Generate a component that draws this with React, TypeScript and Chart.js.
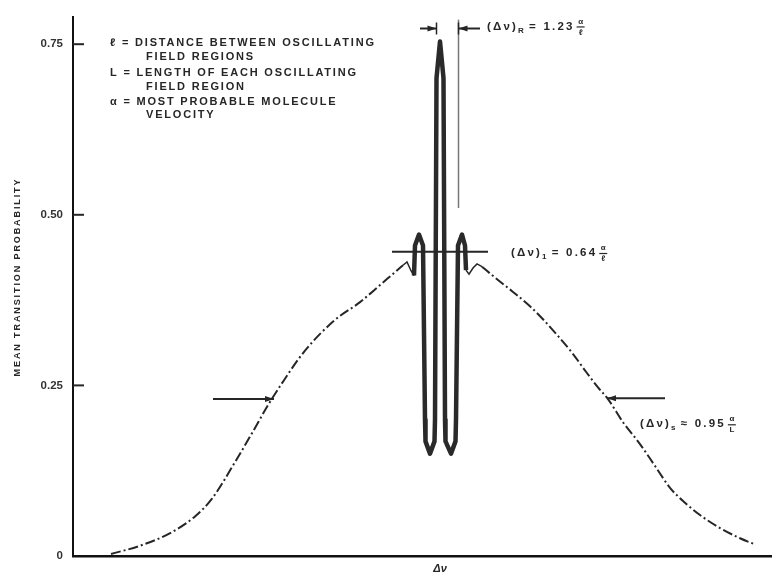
import React, { useEffect, useRef } from "react";
import { Chart, registerables } from "chart.js";

Chart.register(...registerables);

// ---- axis ticks ----
const Y_TICKS = [0, 0.25, 0.5, 0.75];
const Y_TICK_LABELS = ["0", "0.25", "0.50", "0.75"];
const X_MIN = -36.7;
const X_MAX = 33.2;
const Y_MIN = 0;
const Y_MAX = 0.79;

// ---- broad (Rabi) pedestal, left part ----
const PEDESTAL_LEFT_X = [-32.9, -30.0, -26.8, -24.5, -22.8, -20.4, -18.8, -17.2, -15.9, -13.5, -10.5, -8.0, -6.0, -4.5, -3.7];
const PEDESTAL_LEFT_Y = [0.003, 0.015, 0.035, 0.058, 0.084, 0.140, 0.180, 0.221, 0.251, 0.301, 0.346, 0.372, 0.397, 0.416, 0.426];

// ---- small wiggle left of the fringes ----
const WIGGLE_LEFT_X = [-3.7, -3.3, -2.9, -2.6];
const WIGGLE_LEFT_Y = [0.426, 0.431, 0.418, 0.411];

// ---- Ramsey fringes (central pattern) ----
const FRINGE_X = [-2.6, -2.5, -2.1, -1.7, -1.5, -1.45, -1.0, -0.55, -0.5, -0.35, 0.0, 0.35, 0.5, 0.55, 1.1, 1.55, 1.6, 1.8, 2.2, 2.5, 2.6];
const FRINGE_Y = [0.411, 0.455, 0.471, 0.455, 0.200, 0.168, 0.150, 0.168, 0.200, 0.700, 0.754, 0.700, 0.200, 0.168, 0.150, 0.168, 0.200, 0.455, 0.471, 0.455, 0.419];

// ---- small wiggle right of the fringes ----
const WIGGLE_RIGHT_X = [2.6, 2.9, 3.3, 3.7, 4.2];
const WIGGLE_RIGHT_Y = [0.419, 0.413, 0.422, 0.428, 0.424];

// ---- broad (Rabi) pedestal, right part ----
const PEDESTAL_RIGHT_X = [4.2, 5.5, 7.3, 9.0, 10.3, 11.7, 13.2, 14.6, 15.8, 16.8, 18.3, 20.0, 21.5, 23.0, 24.5, 26.0, 28.0, 30.0, 31.5];
const PEDESTAL_RIGHT_Y = [0.424, 0.408, 0.387, 0.366, 0.347, 0.324, 0.298, 0.270, 0.247, 0.230, 0.196, 0.164, 0.132, 0.100, 0.078, 0.060, 0.041, 0.026, 0.017];

// ---- texts ----
const Y_TITLE = "MEAN TRANSITION PROBABILITY";
const X_TITLE = "Δν";
const LEGEND_LINES = [
  "ℓ = DISTANCE BETWEEN OSCILLATING",
  "   FIELD REGIONS",
  "L = LENGTH OF EACH OSCILLATING",
  "   FIELD REGION",
  "α = MOST PROBABLE MOLECULE",
  "   VELOCITY",
];

// width labels: subscript, relation and value, numerator, denominator
const WIDTH_LABELS = [
  { sub: "R", rel: "= 1.23", num: "α", den: "ℓ" },
  { sub: "1", rel: "= 0.64", num: "α", den: "ℓ" },
  { sub: "s", rel: "≈ 0.95", num: "α", den: "L" },
];

// width markers in data units: from x1 to x2 at level y; head at x2 if arrow
const MARKERS = [
  { x1: -2.0, x2: -0.35, y: 0.773, arrow: true, stop: true },
  { x1: 4.0, x2: 1.85, y: 0.773, arrow: true, stop: true },
  { x1: -4.8, x2: 4.8, y: 0.446, arrow: false, stop: false },
  { x1: -22.7, x2: -16.6, y: 0.230, arrow: true, stop: false },
  { x1: 22.5, x2: 16.7, y: 0.231, arrow: true, stop: false },
];

const pts = (xs: number[], ys: number[]) => xs.map((x, i) => ({ x, y: ys[i] }));

const FONT = '"Liberation Sans", Arial, sans-serif';
const INK = "#262626";

const annotationPlugin = {
  id: "annotations",
  afterDraw(chart: any) {
    const ctx = chart.ctx as CanvasRenderingContext2D;
    const xs = chart.scales.x;
    const ys = chart.scales.y;
    const area = chart.chartArea;
    ctx.save();
    ctx.strokeStyle = INK;
    ctx.fillStyle = INK;

    // inward y tick marks
    ctx.lineWidth = 2;
    Y_TICKS.forEach((v) => {
      if (v === 0) return;
      const py = ys.getPixelForValue(v);
      ctx.beginPath();
      ctx.moveTo(area.left, py);
      ctx.lineTo(area.left + 11, py);
      ctx.stroke();
    });

    // thin reference line of central fringe width
    ctx.lineWidth = 1.5;
    ctx.strokeStyle = "#777";
    const rx = xs.getPixelForValue(1.85);
    ctx.beginPath();
    ctx.moveTo(rx, ys.getPixelForValue(0.786));
    ctx.lineTo(rx, ys.getPixelForValue(0.51));
    ctx.stroke();
    ctx.strokeStyle = INK;

    // markers
    MARKERS.forEach((m) => {
      const p1 = xs.getPixelForValue(m.x1);
      const p2 = xs.getPixelForValue(m.x2);
      const py = ys.getPixelForValue(m.y);
      ctx.lineWidth = 2;
      ctx.beginPath();
      ctx.moveTo(p1, py);
      ctx.lineTo(p2, py);
      ctx.stroke();
      if (m.arrow) {
        const d = Math.sign(p2 - p1);
        ctx.beginPath();
        ctx.moveTo(p2, py);
        ctx.lineTo(p2 - d * 9, py - 3);
        ctx.lineTo(p2 - d * 9, py + 3);
        ctx.closePath();
        ctx.fill();
      }
      if (m.stop) {
        ctx.lineWidth = 1.5;
        ctx.beginPath();
        ctx.moveTo(p2, py - 6);
        ctx.lineTo(p2, py + 6);
        ctx.stroke();
      }
    });

    // width labels
    const labelPos = [
      { x: 0.0, y: 0.776, dx: 47 },
      { x: 0.0, y: 0.444, dx: 71 },
      { x: 0.0, y: 0.193, dx: 200 },
    ];
    WIDTH_LABELS.forEach((l, i) => {
      const lp = labelPos[i];
      let cx = xs.getPixelForValue(lp.x) + lp.dx;
      const cy = ys.getPixelForValue(lp.y);
      ctx.textBaseline = "middle";
      ctx.textAlign = "left";
      (ctx as any).letterSpacing = "2.2px";
      ctx.font = `bold 11.5px ${FONT}`;
      ctx.fillText("(Δν)", cx, cy);
      cx += ctx.measureText("(Δν)").width;
      ctx.font = `bold 8px ${FONT}`;
      ctx.fillText(l.sub, cx, cy + 4);
      cx += ctx.measureText(l.sub).width + 3;
      ctx.font = `bold 11.5px ${FONT}`;
      ctx.fillText(l.rel, cx, cy);
      cx += ctx.measureText(l.rel).width + 2;
      (ctx as any).letterSpacing = "0px";
      ctx.font = `bold 8px ${FONT}`;
      ctx.textAlign = "center";
      ctx.fillText(l.num, cx + 4, cy - 5);
      ctx.fillText(l.den, cx + 4, cy + 6);
      ctx.lineWidth = 1.2;
      ctx.beginPath();
      ctx.moveTo(cx, cy + 0.5);
      ctx.lineTo(cx + 8, cy + 0.5);
      ctx.stroke();
    });

    // legend block
    ctx.textAlign = "left";
    ctx.textBaseline = "middle";
    ctx.font = `bold 11px ${FONT}`;
    (ctx as any).letterSpacing = "1.8px";
    const legY = [43, 57, 73, 87, 102, 115];
    LEGEND_LINES.forEach((t, i) => {
      const indent = t.startsWith("   ") ? 36 : 0;
      ctx.fillText(t.trim(), area.left + 37 + indent, legY[i]);
    });

    // y title
    ctx.font = `bold 9px ${FONT}`;
    (ctx as any).letterSpacing = "1.9px";
    ctx.translate(18, 277);
    ctx.rotate(-Math.PI / 2);
    ctx.textAlign = "center";
    ctx.fillText(Y_TITLE, 0, 0);
    ctx.restore();

    // x title
    ctx.save();
    ctx.fillStyle = INK;
    ctx.font = `italic bold 11px ${FONT}`;
    ctx.textAlign = "center";
    ctx.textBaseline = "middle";
    ctx.fillText(X_TITLE, xs.getPixelForValue(0), area.bottom + 13);
    ctx.restore();
  },
};

export default function App() {
  const ref = useRef<HTMLCanvasElement | null>(null);
  useEffect(() => {
    if (!ref.current) return;
    const pedestalStyle = {
      borderColor: INK,
      borderWidth: 2,
      borderDash: [10, 3, 2, 3],
      pointRadius: 0,
      cubicInterpolationMode: "monotone",
      fill: false,
    };
    const chart = new Chart(ref.current, {
      type: "line",
      data: {
        datasets: [
          { data: pts(PEDESTAL_LEFT_X, PEDESTAL_LEFT_Y), ...pedestalStyle },
          { data: pts(PEDESTAL_RIGHT_X, PEDESTAL_RIGHT_Y), ...pedestalStyle },
          { data: pts(WIGGLE_LEFT_X, WIGGLE_LEFT_Y), borderColor: INK, borderWidth: 1.5, pointRadius: 0, tension: 0 },
          { data: pts(WIGGLE_RIGHT_X, WIGGLE_RIGHT_Y), borderColor: INK, borderWidth: 1.5, pointRadius: 0, tension: 0 },
          { data: pts(FRINGE_X, FRINGE_Y), borderColor: "#2a2a2a", borderWidth: 4.5, pointRadius: 0, tension: 0, borderJoinStyle: "round" },
          { data: pts(FRINGE_X, FRINGE_Y), borderColor: "#a8a8a8", borderWidth: 1.6, pointRadius: 0, tension: 0, borderJoinStyle: "round" },
        ] as any,
      },
      options: {
        responsive: false,
        animation: false,
        parsing: false as any,
        layout: { padding: { top: 12, left: 0, right: 0, bottom: 0 } },
        plugins: { legend: { display: false }, tooltip: { enabled: false }, title: { display: false } },
        scales: {
          x: {
            type: "linear",
            min: X_MIN,
            max: X_MAX,
            grid: { display: false, drawTicks: false },
            border: { display: true, color: "#111", width: 2.5 },
            ticks: { display: false },
            afterFit: (s: any) => { s.height = 24; },
          },
          y: {
            type: "linear",
            min: Y_MIN,
            max: Y_MAX,
            grid: { display: false, drawTicks: false },
            border: { display: true, color: "#111", width: 2 },
            afterBuildTicks: (s: any) => { s.ticks = Y_TICKS.map((v) => ({ value: v })); },
            ticks: {
              padding: 10,
              color: "#333",
              font: { family: FONT, size: 11.5, weight: "bold" },
              callback: (v: any) => {
                const i = Y_TICKS.indexOf(Number(v));
                return i >= 0 ? Y_TICK_LABELS[i] : "";
              },
            },
            afterFit: (s: any) => { s.width = 73; },
          },
        },
      },
      plugins: [annotationPlugin],
    } as any);
    return () => chart.destroy();
  }, []);
  return (
    <div style={{ position: "fixed", left: 0, top: 0, width: 772, height: 580, background: "#fff" }}>
      <canvas ref={ref} width={772} height={580} style={{ display: "block" }} />
    </div>
  );
}
